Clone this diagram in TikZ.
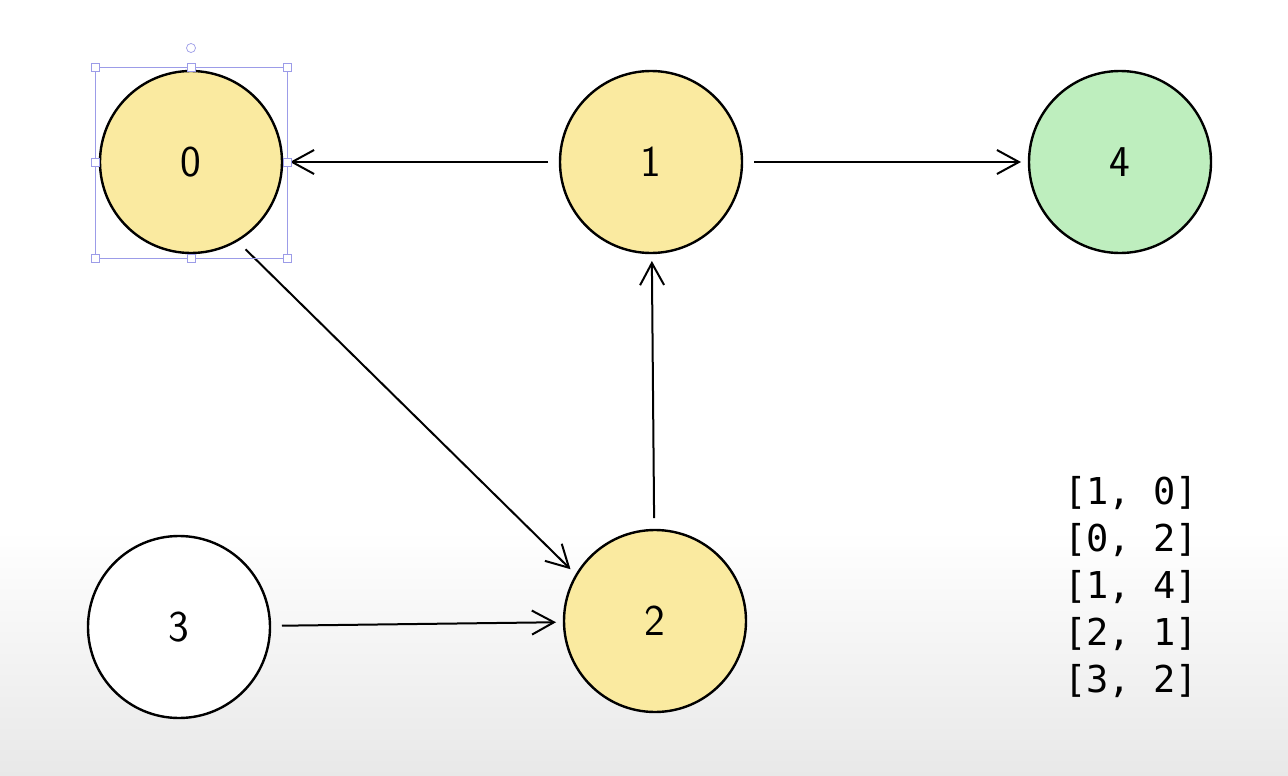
\documentclass[tikz,border=0pt]{standalone}
\usepackage{fontspec}
\newfontfamily\codefont{DejaVu Sans Mono}
\usepackage{xcolor}
\usetikzlibrary{arrows.meta}
\definecolor{nodeyellow}{RGB}{250,234,160}
\definecolor{nodegreen}{RGB}{190,238,190}
\definecolor{selblue}{RGB}{156,156,232}

\begin{document}
\begin{tikzpicture}[x=1pt, y=-1pt,
  every node/.style={font=\sffamily\fontsize{44}{52}\selectfont},
  vert/.style={draw, circle, line width=2.4pt, minimum size=182pt,
               inner sep=0pt, outer sep=12pt},
  tr/.style={-{Straight Barb[length=22pt, width=24pt]}, line width=2pt,
             shorten >=-4pt},
  handle/.style={draw=selblue, fill=white, line width=0.7pt}
]
% page and the grey fade at the bottom
\useasboundingbox (0,0) rectangle (1288,776);
\fill[white] (0,0) rectangle (1288,530);
\shade[top color=white, bottom color=black!9] (0,530) rectangle (1288,776);

\node[vert, fill=nodeyellow] (n0) at (191,162) {0};
\node[vert, fill=nodeyellow] (n1) at (651,162) {1};
\node[vert, fill=nodegreen]  (n4) at (1120,162) {4};
\node[vert, fill=white]      (n3) at (179,627) {3};
\node[vert, fill=nodeyellow] (n2) at (655,621) {2};

\draw[tr] (n1) -- (n0);
\draw[tr] (n1) -- (n4);
\draw[tr] (n0.-58) -- (n2.148);
\draw[tr] (n2) -- (n1);
\draw[tr] (n3) -- (n2);

% selection frame round node 0
\draw[selblue, line width=0.7pt] (95,67) rectangle (287,258);
\foreach \hx/\hy in {95/67, 191/67, 287/67, 95/162, 287/162,
                     95/258, 191/258, 287/258}
  \filldraw[handle] (\hx-4,\hy-4) rectangle (\hx+4,\hy+4);
\filldraw[handle] (191,48) circle (4.5pt);

% edge list
\foreach \i/\pair in {0/{[1, 0]}, 1/{[0, 2]}, 2/{[1, 4]}, 3/{[2, 1]}, 4/{[3, 2]}}
  \node[anchor=west, inner sep=0pt, font=\codefont\fontsize{37}{47}\selectfont]
    (e\i) at (1064,493+47*\i) {\pair};
\end{tikzpicture}
\end{document}
